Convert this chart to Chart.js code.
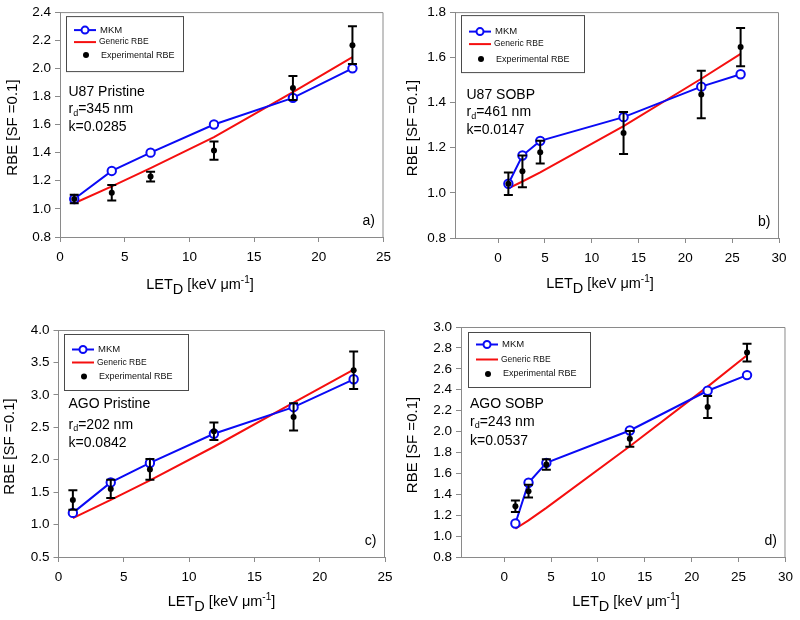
<!DOCTYPE html>
<html>
<head>
<meta charset="utf-8">
<script src="https://cdn.jsdelivr.net/npm/chart.js@4.4.1/dist/chart.umd.min.js"></script>
<style>
body { margin: 0; background: #fff; }
#wrap { position: relative; width: 800px; height: 620px; overflow: hidden; }
canvas { position: absolute; }
</style>
</head>
<body>
<div id="wrap">
  <canvas id="chart_a" width="400" height="310" style="left:0;top:0"></canvas>
  <canvas id="chart_b" width="400" height="310" style="left:400px;top:0"></canvas>
  <canvas id="chart_c" width="400" height="310" style="left:0;top:310px"></canvas>
  <canvas id="chart_d" width="400" height="310" style="left:400px;top:310px"></canvas>
</div>
<script>
// a) U87 Pristine
const letA = [1.1, 4.0, 7.0, 11.9, 18.0, 22.6];
const mkmA = [1.07, 1.27, 1.40, 1.60, 1.79, 2.00];
const genericA = [1.04, 1.16, 1.29, 1.51, 1.83, 2.08];
const expA = [1.07, 1.115, 1.23, 1.415, 1.86, 2.165];
const errA = [0.03, 0.055, 0.035, 0.065, 0.085, 0.135];
const xTicksA = [0, 5, 10, 15, 20, 25];
const yTicksA = [0.8, 1.0, 1.2, 1.4, 1.6, 1.8, 2.0, 2.2, 2.4];

// b) U87 SOBP
const letB = [1.1, 2.6, 4.5, 13.4, 21.7, 25.9];
const mkmB = [1.04, 1.165, 1.23, 1.335, 1.47, 1.525];
const genericB = [1.02, 1.05, 1.09, 1.295, 1.505, 1.615];
const expB = [1.04, 1.095, 1.18, 1.265, 1.435, 1.645];
const errB = [0.05, 0.07, 0.05, 0.093, 0.105, 0.085];
const xTicksB = [0, 5, 10, 15, 20, 25, 30];
const yTicksB = [0.8, 1.0, 1.2, 1.4, 1.6, 1.8];

// c) AGO Pristine
const letC = [1.1, 4.0, 7.0, 11.9, 18.0, 22.6];
const mkmC = [1.18, 1.65, 1.95, 2.40, 2.81, 3.24];
const genericC = [1.10, 1.38, 1.68, 2.20, 2.88, 3.39];
const expC = [1.38, 1.55, 1.85, 2.44, 2.66, 3.38];
const errC = [0.15, 0.14, 0.16, 0.135, 0.21, 0.29];
const xTicksC = [0, 5, 10, 15, 20, 25];
const yTicksC = [0.5, 1.0, 1.5, 2.0, 2.5, 3.0, 3.5, 4.0];

// d) AGO SOBP
const letD = [1.2, 2.6, 4.5, 13.4, 21.7, 25.9];
const mkmD = [1.12, 1.51, 1.70, 2.01, 2.39, 2.54];
const genericD = [1.07, 1.15, 1.27, 1.86, 2.43, 2.73];
const expD = [1.285, 1.43, 1.685, 1.93, 2.235, 2.755];
const errD = [0.055, 0.06, 0.05, 0.075, 0.105, 0.085];
const xTicksD = [0, 5, 10, 15, 20, 25, 30];
const yTicksD = [0.8, 1.0, 1.2, 1.4, 1.6, 1.8, 2.0, 2.2, 2.4, 2.6, 2.8, 3.0];

const seriesNames = ['MKM', 'Generic RBE', 'Experimental RBE'];
const FONT = "'Liberation Sans', Arial, sans-serif";
const BLUE = 'rgb(10, 10, 245)';
const RED = 'rgb(245, 15, 15)';
const AXIS = '#8a8a8a';

const panels = [
    { id: 'a', let: letA, mkm: mkmA, generic: genericA, exp: expA, err: errA, xTicks: xTicksA, yTicks: yTicksA,
      xMin: 0, xMax: 25, label: 'U87 Pristine', rd: '345 nm', k: '0.0285',
      left: 60, padTop: 11, padRight: 16.5, xAxisH: 73, titleX: 200, titleDy: 52, yTitleX: 13,
      box: [6, 4, 117, 55], rows: [14, 26, 39], notes: [8.5, 80, 97, 115] },
    { id: 'b', let: letB, mkm: mkmB, generic: genericB, exp: expB, err: errB, xTicks: xTicksB, yTicks: yTicksB,
      xMin: -4.6, xMax: 30, label: 'U87 SOBP', rd: '461 nm', k: '0.0147',
      left: 55, padTop: 12, padRight: 21, xAxisH: 72, titleX: 200, titleDy: 50, yTitleX: 13,
      box: [6, 3, 123, 57], rows: [16.5, 29, 44], notes: [11.5, 83, 100, 118] },
    { id: 'c', let: letC, mkm: mkmC, generic: genericC, exp: expC, err: errC, xTicks: xTicksC, yTicks: yTicksC,
      xMin: 0, xMax: 25, label: 'AGO Pristine', rd: '202 nm', k: '0.0842',
      left: 58.5, padTop: 20, padRight: 15, xAxisH: 63, titleX: 221.5, titleDy: 49, yTitleX: 10,
      box: [5.5, 4, 124, 56], rows: [15.5, 28.5, 42.5], notes: [10, 74, 95, 113] },
    { id: 'd', let: letD, mkm: mkmD, generic: genericD, exp: expD, err: errD, xTicks: xTicksD, yTicks: yTicksD,
      xMin: -4.6, xMax: 30, label: 'AGO SOBP', rd: '243 nm', k: '0.0537',
      left: 61, padTop: 17, padRight: 9, xAxisH: 63, titleX: 226, titleDy: 49, yTitleX: 13,
      box: [7, 5, 122, 55], rows: [12.5, 27.5, 42], notes: [9, 77, 95, 114] }
];

function decoPlugin(p) {
    return {
        id: 'deco_' + p.id,
        afterDatasetsDraw(chart) {
            const ctx = chart.ctx;
            const a = chart.chartArea;
            const xs = chart.scales.x, ys = chart.scales.y;
            ctx.save();

            // frame (top and right)
            ctx.strokeStyle = AXIS;
            ctx.lineWidth = 1;
            ctx.beginPath();
            ctx.moveTo(a.left, a.top + 0.5);
            ctx.lineTo(a.right - 0.5, a.top + 0.5);
            ctx.lineTo(a.right - 0.5, a.bottom);
            ctx.stroke();

            // error bars
            ctx.strokeStyle = '#000';
            ctx.lineWidth = 2;
            for (let i = 0; i < p.let.length; i++) {
                const x = xs.getPixelForValue(p.let[i]);
                const y1 = ys.getPixelForValue(p.exp[i] - p.err[i]);
                const y2 = ys.getPixelForValue(p.exp[i] + p.err[i]);
                ctx.beginPath();
                ctx.moveTo(x, y1); ctx.lineTo(x, y2);
                ctx.moveTo(x - 4.5, y1); ctx.lineTo(x + 4.5, y1);
                ctx.moveTo(x - 4.5, y2); ctx.lineTo(x + 4.5, y2);
                ctx.stroke();
            }

            // legend box
            const bx = a.left + p.box[0], by = a.top + p.box[1];
            ctx.fillStyle = '#fff';
            ctx.fillRect(bx, by, p.box[2], p.box[3]);
            ctx.strokeStyle = '#4a4a4a';
            ctx.lineWidth = 1;
            ctx.strokeRect(bx + 0.5, by + 0.5, p.box[2], p.box[3]);
            ctx.textBaseline = 'middle';
            ctx.textAlign = 'left';
            // MKM
            let ry = by + p.rows[0];
            ctx.strokeStyle = BLUE; ctx.lineWidth = 2;
            ctx.beginPath(); ctx.moveTo(bx + 8, ry); ctx.lineTo(bx + 30, ry); ctx.stroke();
            ctx.beginPath(); ctx.arc(bx + 19, ry, 3.5, 0, Math.PI * 2);
            ctx.fillStyle = '#fff'; ctx.fill(); ctx.stroke();
            ctx.fillStyle = '#111';
            ctx.font = '9.5px ' + FONT;
            ctx.fillText(seriesNames[0], bx + 34, ry);
            // Generic
            ry = by + p.rows[1];
            ctx.strokeStyle = RED;
            ctx.beginPath(); ctx.moveTo(bx + 8, ry); ctx.lineTo(bx + 30, ry); ctx.stroke();
            ctx.font = '8.5px ' + FONT;
            ctx.fillText(seriesNames[1], bx + 33, ry);
            // Experimental
            ry = by + p.rows[2];
            ctx.fillStyle = '#000';
            ctx.beginPath(); ctx.arc(bx + 20, ry, 3, 0, Math.PI * 2); ctx.fill();
            ctx.fillStyle = '#111';
            ctx.font = '9px ' + FONT;
            ctx.fillText(seriesNames[2], bx + 35, ry);

            // annotation
            const nx = a.left + p.notes[0];
            ctx.fillStyle = '#000';
            ctx.font = '14px ' + FONT;
            ctx.fillText(p.label, nx, a.top + p.notes[1]);
            let ty = a.top + p.notes[2];
            ctx.fillText('r', nx, ty);
            let w = ctx.measureText('r').width;
            ctx.font = '9px ' + FONT;
            ctx.fillText('d', nx + w, ty + 4);
            w += ctx.measureText('d').width;
            ctx.font = '14px ' + FONT;
            ctx.fillText('=' + p.rd, nx + w, ty);
            ctx.fillText('k=' + p.k, nx, a.top + p.notes[3]);

            // panel letter
            ctx.textAlign = 'right';
            ctx.fillText(p.id + ')', a.right - 8.5, a.bottom - 15.5);
            ctx.restore();
        },
        afterDraw(chart) {
            const ctx = chart.ctx;
            const a = chart.chartArea;
            ctx.save();
            ctx.fillStyle = '#000';
            ctx.textBaseline = 'alphabetic';
            ctx.textAlign = 'left';
            // x title: LET_D [keV um^-1]
            const big = '14.5px ' + FONT, small = '10px ' + FONT;
            const parts = [['LET', big, 0], ['D', big, 5], [' [keV \u03bcm', big, 0], ['-1', small, -6], [']', big, 0]];
            let total = 0;
            parts.forEach(t => { ctx.font = t[1]; total += ctx.measureText(t[0]).width; });
            let x = p.titleX - total / 2;
            const base = a.bottom + p.titleDy;
            parts.forEach(t => {
                ctx.font = t[1];
                ctx.fillText(t[0], x, base + t[2]);
                x += ctx.measureText(t[0]).width;
            });
            // y title
            ctx.translate(p.yTitleX, (a.top + a.bottom) / 2 + 3);
            ctx.rotate(-Math.PI / 2);
            ctx.textAlign = 'center';
            ctx.textBaseline = 'middle';
            ctx.font = '15px ' + FONT;
            ctx.fillText('RBE [SF =0.1]', 0, 0);
            ctx.restore();
        }
    };
}

function render_chart(p) {
    const ctx = document.getElementById('chart_' + p.id).getContext('2d');
    const pts = (ys) => p.let.map((x, i) => ({ x: x, y: ys[i] }));
    return new Chart(ctx, {
        type: 'line',
        data: {
            datasets: [
                {
                    label: seriesNames[2],
                    data: pts(p.exp),
                    showLine: false,
                    pointRadius: 3,
                    pointBackgroundColor: '#000',
                    pointBorderColor: '#000',
                    pointBorderWidth: 0,
                    order: 0
                },
                {
                    label: seriesNames[0],
                    data: pts(p.mkm),
                    borderColor: BLUE,
                    borderWidth: 2,
                    pointRadius: 4.2,
                    pointBorderWidth: 2,
                    pointBorderColor: BLUE,
                    pointBackgroundColor: '#fff',
                    fill: false,
                    tension: 0,
                    order: 1
                },
                {
                    label: seriesNames[1],
                    data: pts(p.generic),
                    borderColor: RED,
                    borderWidth: 2,
                    pointRadius: 0,
                    fill: false,
                    tension: 0,
                    order: 2
                }
            ]
        },
        options: {
            responsive: false,
            animation: false,
            devicePixelRatio: 1,
            layout: { padding: { left: 0, top: p.padTop, right: p.padRight, bottom: 0 } },
            plugins: { legend: { display: false }, tooltip: { enabled: false }, title: { display: false } },
            scales: {
                x: {
                    type: 'linear',
                    min: p.xMin,
                    max: p.xMax,
                    afterBuildTicks: s => { s.ticks = p.xTicks.map(v => ({ value: v })); },
                    afterFit: s => { s.height = p.xAxisH; },
                    ticks: { color: '#000', font: { family: FONT, size: 13.5 }, padding: 7, maxRotation: 0, autoSkip: false,
                             callback: v => String(v) },
                    grid: { drawOnChartArea: false, drawTicks: true, tickLength: 5, tickColor: AXIS },
                    border: { display: true, color: AXIS, width: 1 }
                },
                y: {
                    type: 'linear',
                    min: p.yTicks[0],
                    max: p.yTicks[p.yTicks.length - 1],
                    afterBuildTicks: s => { s.ticks = p.yTicks.map(v => ({ value: v })); },
                    afterFit: s => { s.width = p.left; },
                    ticks: { color: '#000', font: { family: FONT, size: 13.5 }, padding: 4, autoSkip: false,
                             callback: v => Number(v).toFixed(1) },
                    grid: { drawOnChartArea: false, drawTicks: true, tickLength: 5, tickColor: AXIS },
                    border: { display: true, color: AXIS, width: 1 }
                }
            }
        },
        plugins: [decoPlugin(p)]
    });
}

for (const p of panels) {
    render_chart(p);
}
</script>
</body>
</html>
